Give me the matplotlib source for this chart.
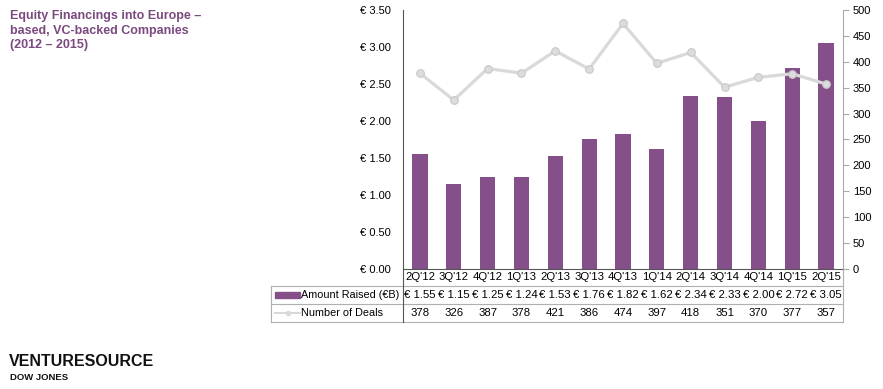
import matplotlib
matplotlib.use("Agg")
import matplotlib.pyplot as plt
from matplotlib.patches import Rectangle
from matplotlib.lines import Line2D
import numpy as np

plt.rcParams['font.family'] = ['Liberation Sans', 'DejaVu Sans']

quarters = ["2Q'12", "3Q'12", "4Q'12", "1Q'13", "2Q'13", "3Q'13", "4Q'13",
            "1Q'14", "2Q'14", "3Q'14", "4Q'14", "1Q'15", "2Q'15"]
amount = [1.55, 1.15, 1.25, 1.24, 1.53, 1.76, 1.82, 1.62, 2.34, 2.33, 2.00, 2.72, 3.05]
deals = [378, 326, 387, 378, 421, 386, 474, 397, 418, 351, 370, 377, 357]
left_ticks = [0, 0.5, 1.0, 1.5, 2.0, 2.5, 3.0, 3.5]
right_ticks = [0, 50, 100, 150, 200, 250, 300, 350, 400, 450, 500]

PURPLE = '#85508a'
GRAY = '#d9d9d9'
TITLE = '#7b4a80'

W, H = 883, 389
fig = plt.figure(figsize=(W / 100, H / 100), dpi=100)
ax_l, ax_r, ax_b, ax_t = 403, 843, 269, 10
ax = fig.add_axes([ax_l / W, 1 - ax_b / H, (ax_r - ax_l) / W, (ax_b - ax_t) / H])
n = len(quarters)
x = np.arange(n)
ax.bar(x, amount, width=0.45, color=PURPLE, zorder=2)
ax.set_xlim(-0.5, n - 0.5)
ax.set_ylim(0, 3.5)
ax.set_yticks(left_ticks)
ax.set_yticklabels([f"€ {v:.2f}" for v in left_ticks], fontsize=8)
ax.tick_params(axis='y', length=0, pad=9)
ax.set_xticks([])
for s in ['top', 'right']:
    ax.spines[s].set_visible(False)
ax.spines['left'].set_color('#555555')
ax.spines['bottom'].set_color('#555555')

ax2 = ax.twinx()
ax2.plot(x, deals, color=GRAY, lw=2.3, marker='o', ms=5.5, mfc='#dcdcdc', mec='#c8c8c8', mew=0.8, zorder=3)
ax2.set_ylim(0, 500)
ax2.set_yticks(right_ticks)
ax2.set_yticklabels([str(v) for v in right_ticks], fontsize=8)
ax2.tick_params(axis='y', length=4, color='#aaaaaa', pad=3)
for s in ['top', 'left', 'bottom']:
    ax2.spines[s].set_visible(False)
ax2.spines['right'].set_color('#aaaaaa')

axh = ax_b - ax_t
axw = ax_r - ax_l
def ay(py):
    return -(py - ax_b) / axh
def axx(px):
    return (px - ax_l) / axw

trans = ax.get_xaxis_transform()
for i, q in enumerate(quarters):
    ax.text(i, ay(277.5), q, transform=trans, ha='center', va='center', fontsize=8.2, clip_on=False)
    ax.text(i, ay(295.5), f"€ {amount[i]:.2f}", transform=trans, ha='center', va='center', fontsize=8.2, clip_on=False)
    ax.text(i, ay(313.5), str(deals[i]), transform=trans, ha='center', va='center', fontsize=8.2, clip_on=False)

lc = '#b0b0b0'
for py in [286, 304, 322]:
    ax.add_line(Line2D([axx(271), 1], [ay(py), ay(py)], transform=ax.transAxes, color=lc, lw=0.8, clip_on=False))
ax.add_line(Line2D([axx(271), axx(271)], [ay(286), ay(322)], transform=ax.transAxes, color=lc, lw=0.8, clip_on=False))
ax.add_line(Line2D([0, 0], [0, ay(322)], transform=ax.transAxes, color='#555555', lw=0.8, clip_on=False))
ax.add_line(Line2D([1, 1], [0, ay(322)], transform=ax.transAxes, color=lc, lw=0.8, clip_on=False))

ax.add_patch(Rectangle((axx(275), ay(298)), axx(300) - axx(275), ay(292) - ay(298), transform=ax.transAxes,
                       color=PURPLE, clip_on=False))
ax.text(axx(301), ay(295.5), "Amount Raised (€B)", transform=ax.transAxes, ha='left', va='center', fontsize=7.8, clip_on=False)
ax.add_line(Line2D([axx(275), axx(300)], [ay(313), ay(313)], transform=ax.transAxes, color=GRAY, lw=1.5, clip_on=False))
ax.add_line(Line2D([axx(288)], [ay(313)], transform=ax.transAxes, color=GRAY, marker='o', ms=3, clip_on=False))
ax.text(axx(301), ay(313.5), "Number of Deals", transform=ax.transAxes, ha='left', va='center', fontsize=7.8, clip_on=False)

fig.text(10 / W, 1 - 10 / H, "Equity Financings into Europe –\nbased, VC-backed Companies\n(2012 – 2015)",
         ha='left', va='top', fontsize=9, fontweight='bold', color=TITLE, linespacing=1.3)

fig.text(9 / W, 1 - 362 / H, "VENTURESOURCE", ha='left', va='center', fontsize=11.5, fontweight='bold', color='#111111')
fig.text(10 / W, 1 - 378 / H, "DOW JONES", ha='left', va='center', fontsize=6.8, fontweight='bold', color='#111111')

fig.savefig('out.png', dpi=100)
